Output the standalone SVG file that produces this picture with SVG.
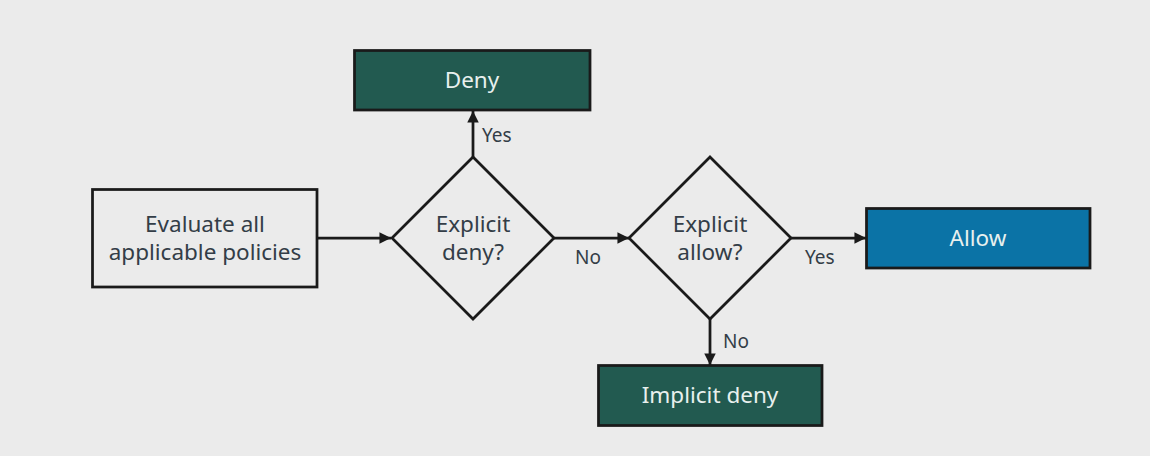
<svg xmlns="http://www.w3.org/2000/svg" width="1150" height="456" viewBox="0 0 1150 456">
<style>
.bg{fill:#ebebeb}
.box{stroke:#1a1a1a;stroke-width:2.75}
.dec{fill:#ebebeb;stroke:#1a1a1a;stroke-width:2.75}
.t{font-family:"Noto Sans","Open Sans",sans-serif;font-size:22.5px;text-anchor:middle;fill:#333d47}
.tw{font-family:"Noto Sans","Open Sans",sans-serif;font-size:22.5px;text-anchor:middle;fill:#e8f0ee}
.lbl{font-family:"Noto Sans","Open Sans",sans-serif;font-size:19px;fill:#333d47}
.edge{stroke:#1a1a1a;stroke-width:2.75;fill:none;marker-end:url(#ah)}
</style>
<defs>
<marker id="ah" viewBox="0 0 10 10" refX="10" refY="5" markerWidth="4.2" markerHeight="4.2" orient="auto" markerUnits="strokeWidth">
<path d="M0,0 L10,5 L0,10 z" fill="#1a1a1a"/>
</marker>
</defs>
<rect class="bg" x="0" y="0" width="1150" height="456"/>
<g id="connectors">
<line class="edge" x1="317" y1="238" x2="391" y2="238"/>
<line class="edge" x1="554" y1="238" x2="629" y2="238"/>
<line class="edge" x1="791" y1="238" x2="866" y2="238"/>
<line class="edge" x1="473" y1="157" x2="473" y2="111"/>
<line class="edge" x1="710" y1="319" x2="710" y2="365"/>
<text class="lbl" x="482" y="142">Yes</text>
<text class="lbl" x="575" y="264">No</text>
<text class="lbl" x="805" y="264">Yes</text>
<text class="lbl" x="723" y="348">No</text>
</g>
<g id="evaluate">
<rect class="box" x="92.500" y="189.500" width="224.500" height="97.500" fill="#ebebeb"/>
<text class="t" x="205" y="232">Evaluate all</text>
<text class="t" x="205" y="260">applicable policies</text>
</g>
<g id="explicit-deny">
<polygon class="dec" points="473,157 554,238 473,319 392,238"/>
<text class="t" x="473" y="232">Explicit</text>
<text class="t" x="473" y="260">deny?</text>
</g>
<g id="deny">
<rect class="box" x="354.500" y="50.500" width="235.500" height="59.500" fill="#225a50"/>
<text class="tw" x="472" y="88">Deny</text>
</g>
<g id="explicit-allow">
<polygon class="dec" points="710,157 791,238 710,319 629,238"/>
<text class="t" x="710" y="232">Explicit</text>
<text class="t" x="710" y="260">allow?</text>
</g>
<g id="allow">
<rect class="box" x="866.500" y="208.500" width="223.500" height="59.500" fill="#0b73a6"/>
<text class="tw" x="978" y="246">Allow</text>
</g>
<g id="implicit-deny">
<rect class="box" x="598.500" y="365.500" width="223.500" height="60" fill="#225a50"/>
<text class="tw" x="710" y="403">Implicit deny</text>
</g>
</svg>
